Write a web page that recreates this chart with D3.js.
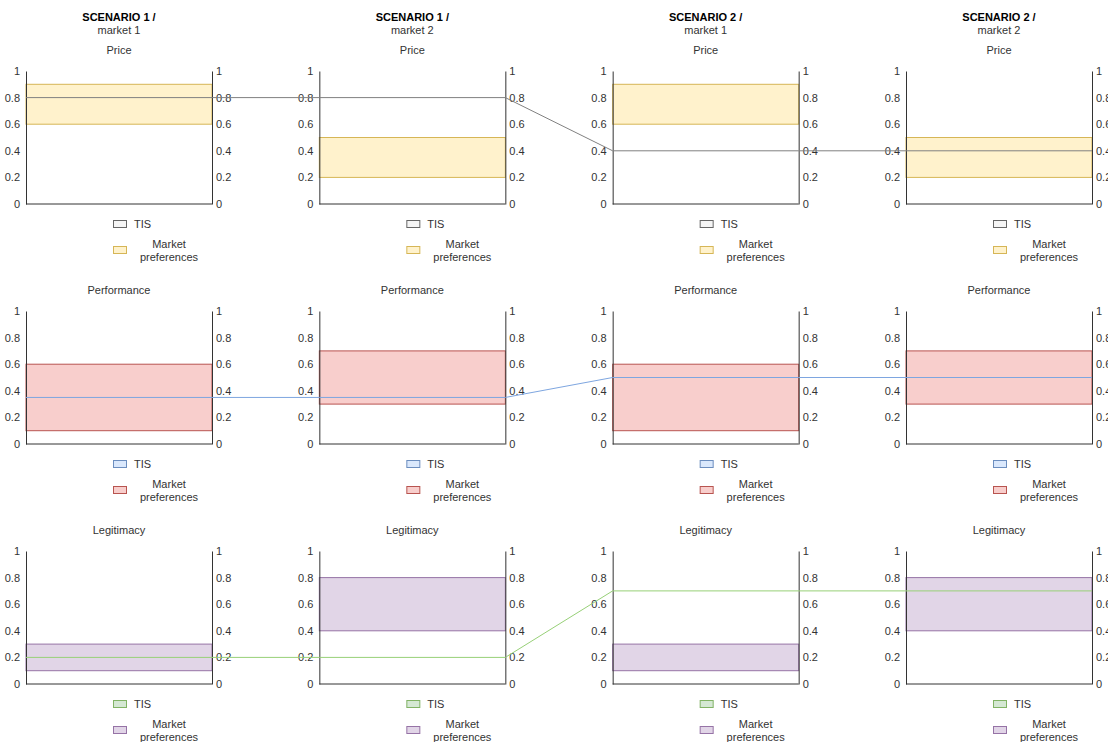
<!DOCTYPE html>
<html><head><meta charset="utf-8">
<script src="https://cdn.jsdelivr.net/npm/d3@7"></script>
<style>body{margin:0;background:#fff;font-family:"Liberation Sans",Arial,sans-serif;}</style>
</head><body><svg id="c" width="1108" height="742"></svg>
<script>
const scenarios = ["SCENARIO 1 /", "SCENARIO 1 /", "SCENARIO 2 /", "SCENARIO 2 /"];
const markets = ["market 1", "market 2", "market 1", "market 2"];
const criteria = ["Price", "Performance", "Legitimacy"];
const tickValues = [0, 0.2, 0.4, 0.6, 0.8, 1];
// TIS values per criterion per panel
const tisPrice = [0.8, 0.8, 0.4, 0.4];
const tisPerformance = [0.35, 0.35, 0.5, 0.5];
const tisLegitimacy = [0.2, 0.2, 0.7, 0.7];
// market preference ranges [low, high]
const prefPrice = [[0.6, 0.9], [0.2, 0.5], [0.6, 0.9], [0.2, 0.5]];
const prefPerformance = [[0.1, 0.6], [0.3, 0.7], [0.1, 0.6], [0.3, 0.7]];
const prefLegitimacy = [[0.1, 0.3], [0.4, 0.8], [0.1, 0.3], [0.4, 0.8]];
const legendLabels = ["TIS", "Market preferences"];

const tisAll = [tisPrice, tisPerformance, tisLegitimacy];
const prefAll = [prefPrice, prefPerformance, prefLegitimacy];
const bandStyle = [
  {fill: "#fff2cc", stroke: "#d6b656"},
  {fill: "#f8cecc", stroke: "#b85450"},
  {fill: "#e1d5e7", stroke: "#9673a6"}
];
const tisStyle = [
  {fill: "#f5f5f5", stroke: "#666666", line: "#808080"},
  {fill: "#dae8fc", stroke: "#6c8ebf", line: "#7ea6e0"},
  {fill: "#d5e8d4", stroke: "#82b366", line: "#97d077"}
];

const svg = d3.select("#c");
const colX = d3.scaleLinear().domain([0, 3]).range([26, 906]);
const plotW = 186, plotH = 133;
const rowTop = d3.scaleLinear().domain([0, 2]).range([71, 551]);
const tc = "#333";

// headers
scenarios.forEach((s, i) => {
  const cx = colX(i) + plotW / 2;
  svg.append("text").attr("x", cx).attr("y", 21).attr("text-anchor", "middle")
    .attr("font-size", 11).attr("font-weight", "bold").attr("fill", "#000").text(s);
  svg.append("text").attr("x", cx).attr("y", 34).attr("text-anchor", "middle")
    .attr("font-size", 11).attr("fill", tc).text(markets[i]);
});

criteria.forEach((crit, r) => {
  const top = rowTop(r);
  const y = d3.scaleLinear().domain([0, 1]).range([top + plotH, top]);
  const linePts = [];
  for (let i = 0; i < 4; i++) {
    const x0 = colX(i), x1 = x0 + plotW;
    const g = svg.append("g");
    g.append("text").attr("x", x0 + plotW / 2).attr("y", top - 17).attr("text-anchor", "middle")
      .attr("font-size", 11).attr("fill", tc).text(crit);
    const [lo, hi] = prefAll[r][i];
    g.append("rect").attr("x", x0).attr("y", y(hi)).attr("width", plotW).attr("height", y(lo) - y(hi))
      .attr("fill", bandStyle[r].fill).attr("stroke", bandStyle[r].stroke).attr("stroke-width", 1);
    const la = d3.axisLeft(y).tickValues(tickValues).tickSize(0).tickPadding(6).tickFormat(d3.format("~g"));
    const ra = d3.axisRight(y).tickValues(tickValues).tickSize(0).tickPadding(4).tickFormat(d3.format("~g"));
    const lg = g.append("g").attr("transform", `translate(${x0},0)`).call(la);
    const rg = g.append("g").attr("transform", `translate(${x1},0)`).call(ra);
    [lg, rg].forEach(a => {
      a.select(".domain").attr("stroke", tc).attr("stroke-width", 1);
      a.selectAll("text").attr("font-size", 11).attr("fill", tc)
        .attr("font-family", '"Liberation Sans",Arial,sans-serif');
    });
    g.append("line").attr("x1", x0).attr("x2", x1).attr("y1", y(0)).attr("y2", y(0))
      .attr("stroke", tc).attr("stroke-width", 1);
    linePts.push([x0, y(tisAll[r][i])], [x1, y(tisAll[r][i])]);

    // legend
    const lx = x0 + 87, ly = top + plotH + 16;
    g.append("rect").attr("x", lx + 0.5).attr("y", ly + 0.5).attr("width", 13).attr("height", 7)
      .attr("fill", tisStyle[r].fill).attr("stroke", tisStyle[r].stroke);
    g.append("text").attr("x", lx + 21).attr("y", ly + 8).attr("font-size", 11).attr("fill", tc).text(legendLabels[0]);
    g.append("rect").attr("x", lx + 0.5).attr("y", ly + 26.5).attr("width", 13).attr("height", 7)
      .attr("fill", bandStyle[r].fill).attr("stroke", bandStyle[r].stroke);
    const words = legendLabels[1].split(" ");
    g.append("text").attr("x", lx + 56).attr("y", ly + 28).attr("text-anchor", "middle")
      .attr("font-size", 11).attr("fill", tc).text(words[0]);
    g.append("text").attr("x", lx + 56).attr("y", ly + 41).attr("text-anchor", "middle")
      .attr("font-size", 11).attr("fill", tc).text(words[1]);
  }
  svg.append("path").attr("d", d3.line()(linePts)).attr("fill", "none")
    .attr("stroke", tisStyle[r].line).attr("stroke-width", 1);
});
</script></body></html>
